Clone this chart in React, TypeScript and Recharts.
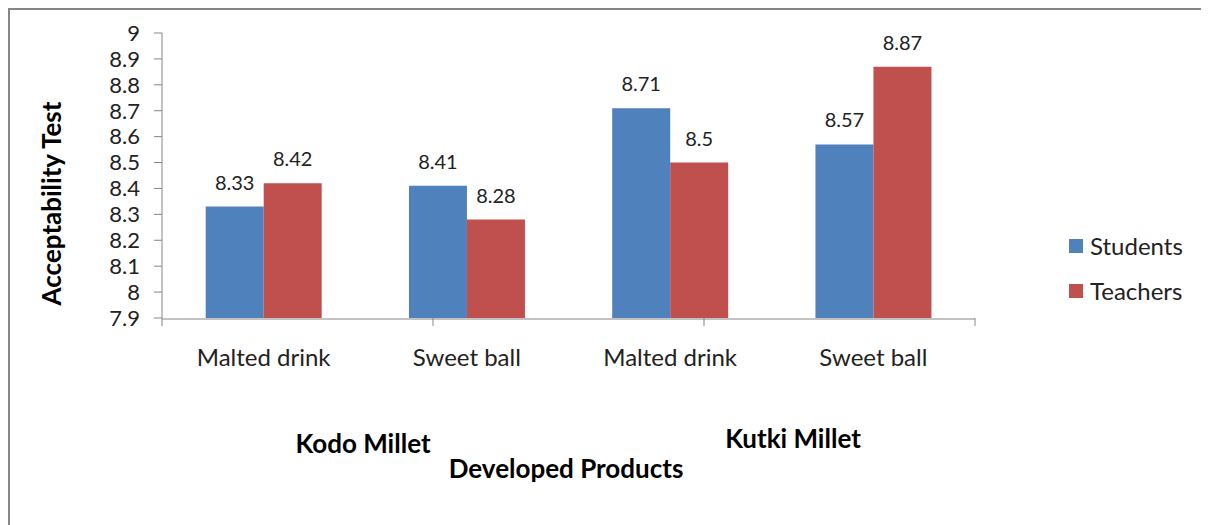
import React from 'react';
import { BarChart, Bar, XAxis, YAxis, LabelList } from 'recharts';

const categories = ['Malted drink', 'Sweet ball', 'Malted drink', 'Sweet ball'];
const students = [8.33, 8.41, 8.71, 8.57];
const teachers = [8.42, 8.28, 8.5, 8.87];
const yTicks = [7.9, 8, 8.1, 8.2, 8.3, 8.4, 8.5, 8.6, 8.7, 8.8, 8.9, 9];
const groupLabels = ['Kodo Millet', 'Kutki Millet'];

const series = [
  { key: 'students', name: 'Students', color: '#4F81BD' },
  { key: 'teachers', name: 'Teachers', color: '#C0504D' },
];

const data = categories.map((name, i) => ({ name, students: students[i], teachers: teachers[i] }));
const boundaryTicks = [...categories.map((_, i) => i), categories.length];

const font = 'Lato, "Noto Sans", sans-serif';
const axisColor = '#868686';
const textColor = '#222';

const titleStyle: React.CSSProperties = {
  position: 'absolute',
  transform: 'translate(-50%, -50%)',
  fontFamily: font,
  fontWeight: 700,
  fontSize: 26,
  color: '#000',
  whiteSpace: 'nowrap',
};

// only the tick line is wanted on the boundary axis
const NoText = () => <g />;

const App: React.FC = () => {
  return (
    <div
      style={{
        position: 'relative',
        width: 1199,
        height: 515,
        borderTop: `2px solid ${axisColor}`,
        borderLeft: `2px solid ${axisColor}`,
        fontFamily: font,
      }}
    >
      <BarChart
        width={1199}
        height={515}
        data={data}
        margin={{ top: 23, right: 234, left: 0, bottom: 205 }}
        barCategoryGap="21.5%"
        barGap={0}
      >
        <YAxis
          width={152}
          domain={[7.9, 9]}
          ticks={yTicks}
          interval={0}
          allowDataOverflow
          stroke={axisColor}
          tickSize={8}
          tickMargin={14}
          fontSize={22}
          tick={{ fontSize: 22, fill: textColor, fontFamily: font }}
          label={{
            value: 'Acceptability Test',
            angle: -90,
            position: 'center',
            dx: -34,
            dy: 28,
            style: { fontSize: 26, fontWeight: 700, fill: '#000', fontFamily: font },
          }}
        />
        <XAxis
          xAxisId="bounds"
          type="number"
          domain={[0, categories.length]}
          ticks={boundaryTicks}
          interval={0}
          height={1}
          axisLine={false}
          tick={NoText}
          tickLine={{ stroke: axisColor }}
          tickSize={8}
          stroke={axisColor}
        />
        <XAxis
          xAxisId="cat"
          dataKey="name"
          height={1}
          interval={0}
          stroke={axisColor}
          tickLine={false}
          tickSize={0}
          tickMargin={30}
          fontSize={24}
          tick={{ fontSize: 24, fill: textColor, fontFamily: font }}
        />
        {series.map((s) => (
          <Bar key={s.key} xAxisId="cat" dataKey={s.key} name={s.name} fill={s.color} isAnimationActive={false}>
            <LabelList dataKey={s.key} position="top" offset={17} style={{ fontSize: 20, fill: textColor, fontFamily: font }} />
          </Bar>
        ))}
      </BarChart>

      <div style={{ position: 'absolute', left: 1059, top: 213, fontFamily: font, fontSize: 24, color: textColor }}>
        {series.map((s) => (
          <div key={s.key} style={{ display: 'flex', alignItems: 'center', height: 45 }}>
            <span style={{ display: 'inline-block', width: 14, height: 14, background: s.color, marginRight: 7 }} />
            {s.name}
          </div>
        ))}
      </div>

      <div style={{ ...titleStyle, left: 353, top: 433 }}>{groupLabels[0]}</div>
      <div style={{ ...titleStyle, left: 783, top: 428 }}>{groupLabels[1]}</div>
      <div style={{ ...titleStyle, left: 556, top: 458 }}>Developed Products</div>
    </div>
  );
};

export default App;
